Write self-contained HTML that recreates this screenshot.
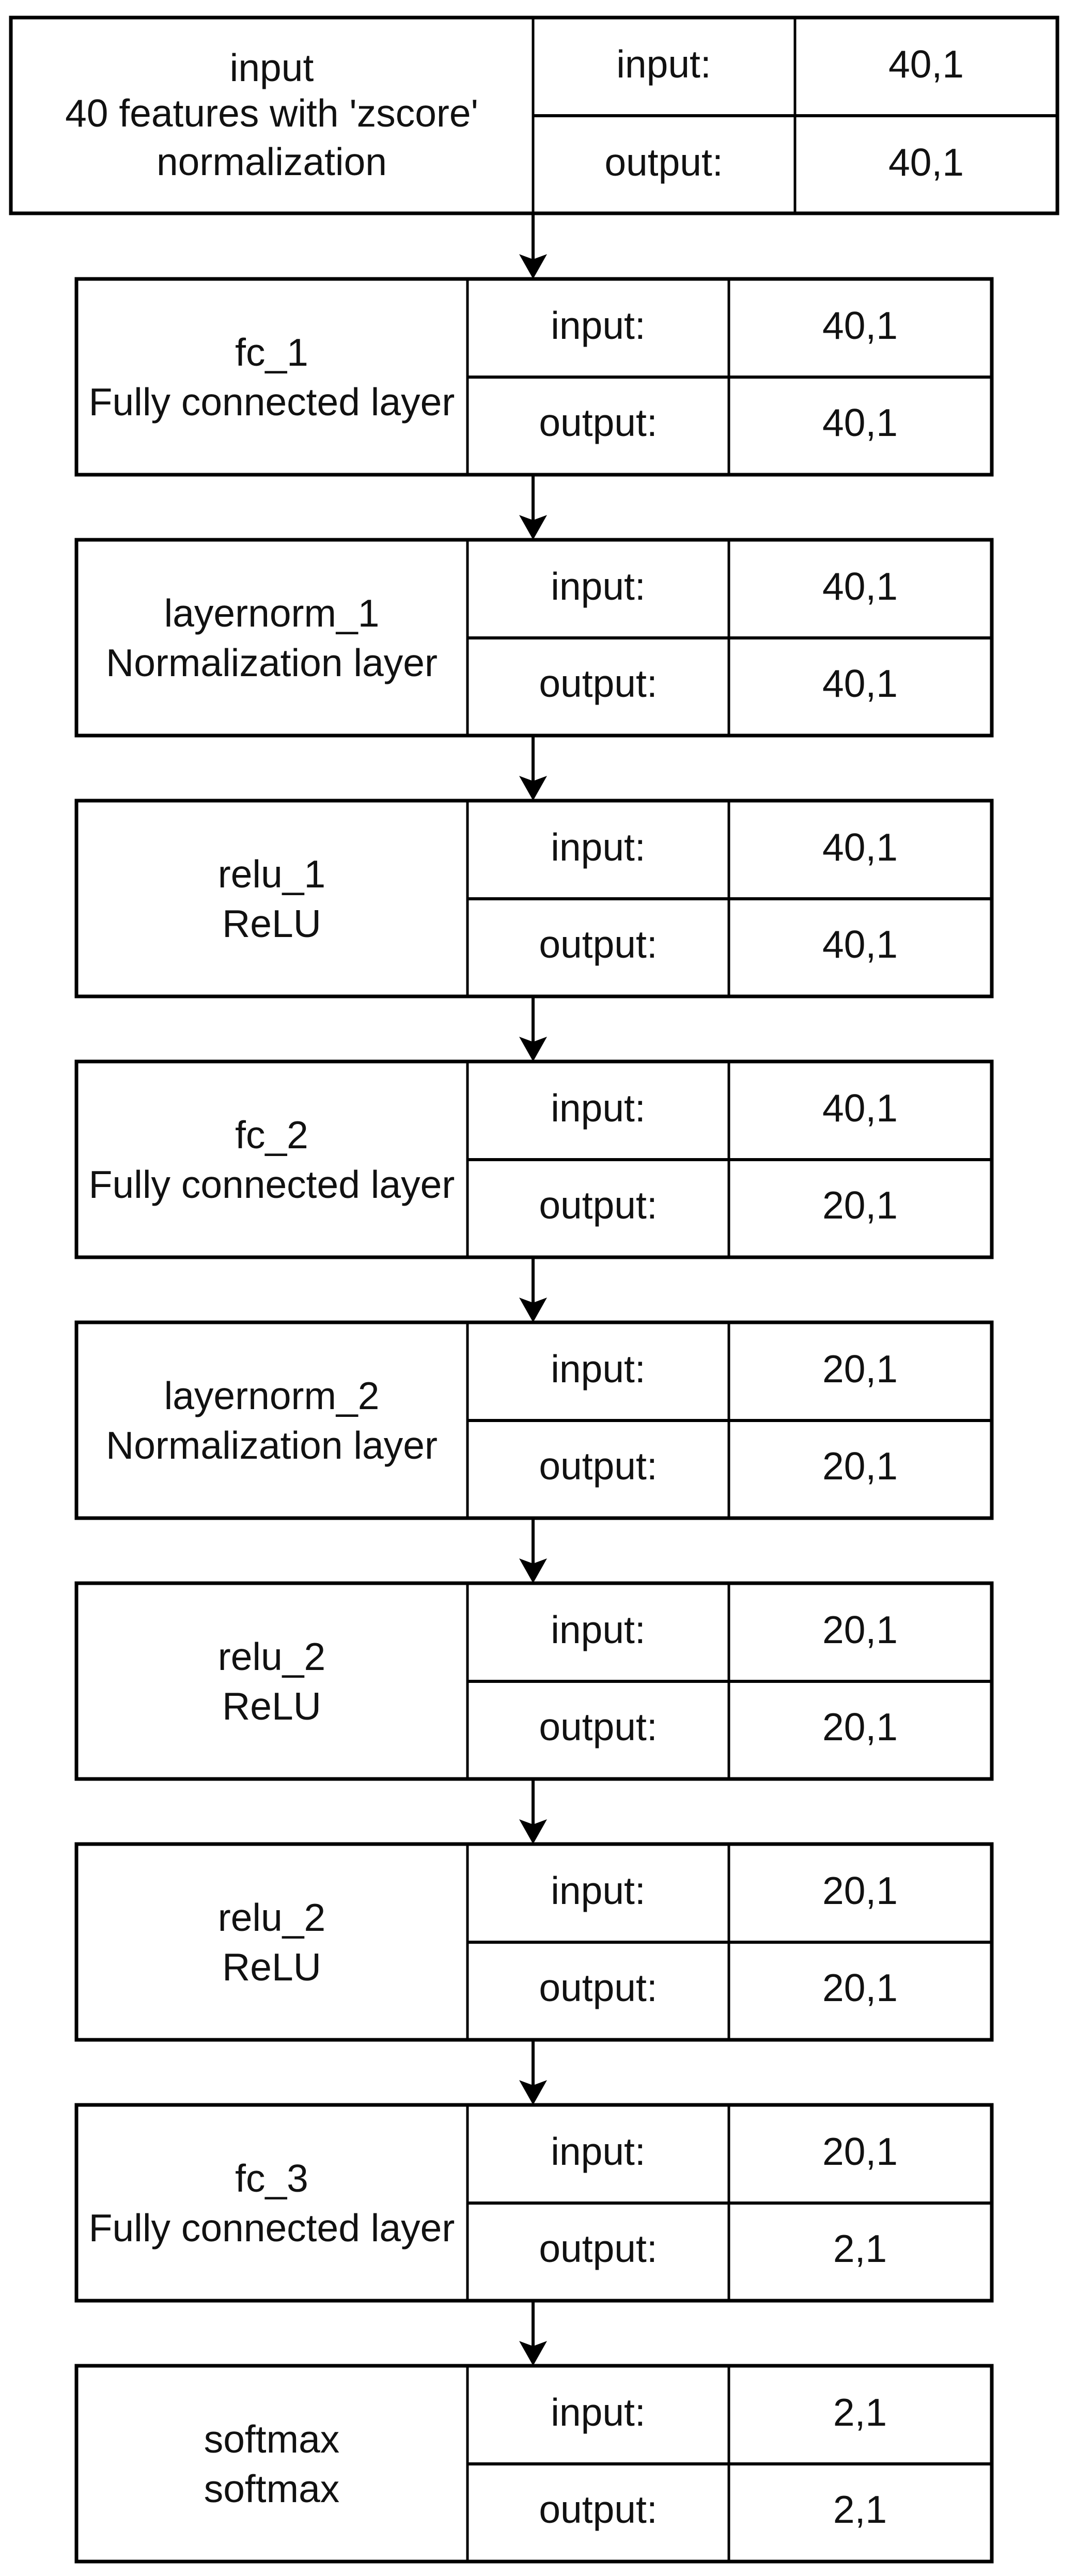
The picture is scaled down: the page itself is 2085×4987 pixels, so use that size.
<!DOCTYPE html>
<html><head><meta charset="utf-8"><style>html,body{margin:0;padding:0;background:#fff}svg{display:block}</style></head>
<body>
<svg xmlns="http://www.w3.org/2000/svg" width="2085" height="4987" viewBox="0 0 2085 4987">
<rect width="2085" height="4987" fill="#fff"/>
<g font-family="Liberation Sans, Arial, sans-serif" font-size="75" fill="#111" text-anchor="middle">
<rect x="21" y="34" width="2026" height="379" fill="none" stroke="#000" stroke-width="7"/>
<line x1="1032" y1="34" x2="1032" y2="413" stroke="#000" stroke-width="5"/>
<line x1="1539" y1="34" x2="1539" y2="413" stroke="#000" stroke-width="5"/>
<line x1="1032" y1="224" x2="2047" y2="224" stroke="#000" stroke-width="6"/>
<text x="526" y="157">input</text>
<text x="526" y="245">40 features with 'zscore'</text>
<text x="526" y="339">normalization</text>
<text x="1285" y="150">input:</text>
<text x="1793" y="150">40,1</text>
<text x="1285" y="340">output:</text>
<text x="1793" y="340">40,1</text>
<line x1="1032" y1="413" x2="1032" y2="502" stroke="#000" stroke-width="6"/>
<path d="M1005,492 L1032,540 L1059,492 L1032,502 Z" fill="#000"/>

<g transform="translate(0,540)">
<rect x="148" y="0" width="1772" height="379" fill="none" stroke="#000" stroke-width="7"/>
<line x1="905" y1="0" x2="905" y2="379" stroke="#000" stroke-width="5"/>
<line x1="1411" y1="0" x2="1411" y2="379" stroke="#000" stroke-width="5"/>
<line x1="905" y1="190" x2="1920" y2="190" stroke="#000" stroke-width="6"/>
<text x="526" y="168">fc_1</text><text x="526" y="264">Fully connected layer</text>
<text x="1158" y="116">input:</text><text x="1665" y="116">40,1</text>
<text x="1158" y="304">output:</text><text x="1665" y="304">40,1</text>
<line x1="1032" y1="379" x2="1032" y2="467" stroke="#000" stroke-width="6"/>
<path d="M1005,457 L1032,505 L1059,457 L1032,467 Z" fill="#000"/>
</g>

<g transform="translate(0,1045)">
<rect x="148" y="0" width="1772" height="379" fill="none" stroke="#000" stroke-width="7"/>
<line x1="905" y1="0" x2="905" y2="379" stroke="#000" stroke-width="5"/>
<line x1="1411" y1="0" x2="1411" y2="379" stroke="#000" stroke-width="5"/>
<line x1="905" y1="190" x2="1920" y2="190" stroke="#000" stroke-width="6"/>
<text x="526" y="168">layernorm_1</text><text x="526" y="264">Normalization layer</text>
<text x="1158" y="116">input:</text><text x="1665" y="116">40,1</text>
<text x="1158" y="304">output:</text><text x="1665" y="304">40,1</text>
<line x1="1032" y1="379" x2="1032" y2="467" stroke="#000" stroke-width="6"/>
<path d="M1005,457 L1032,505 L1059,457 L1032,467 Z" fill="#000"/>
</g>

<g transform="translate(0,1550)">
<rect x="148" y="0" width="1772" height="379" fill="none" stroke="#000" stroke-width="7"/>
<line x1="905" y1="0" x2="905" y2="379" stroke="#000" stroke-width="5"/>
<line x1="1411" y1="0" x2="1411" y2="379" stroke="#000" stroke-width="5"/>
<line x1="905" y1="190" x2="1920" y2="190" stroke="#000" stroke-width="6"/>
<text x="526" y="168">relu_1</text><text x="526" y="264">ReLU</text>
<text x="1158" y="116">input:</text><text x="1665" y="116">40,1</text>
<text x="1158" y="304">output:</text><text x="1665" y="304">40,1</text>
<line x1="1032" y1="379" x2="1032" y2="467" stroke="#000" stroke-width="6"/>
<path d="M1005,457 L1032,505 L1059,457 L1032,467 Z" fill="#000"/>
</g>

<g transform="translate(0,2055)">
<rect x="148" y="0" width="1772" height="379" fill="none" stroke="#000" stroke-width="7"/>
<line x1="905" y1="0" x2="905" y2="379" stroke="#000" stroke-width="5"/>
<line x1="1411" y1="0" x2="1411" y2="379" stroke="#000" stroke-width="5"/>
<line x1="905" y1="190" x2="1920" y2="190" stroke="#000" stroke-width="6"/>
<text x="526" y="168">fc_2</text><text x="526" y="264">Fully connected layer</text>
<text x="1158" y="116">input:</text><text x="1665" y="116">40,1</text>
<text x="1158" y="304">output:</text><text x="1665" y="304">20,1</text>
<line x1="1032" y1="379" x2="1032" y2="467" stroke="#000" stroke-width="6"/>
<path d="M1005,457 L1032,505 L1059,457 L1032,467 Z" fill="#000"/>
</g>

<g transform="translate(0,2560)">
<rect x="148" y="0" width="1772" height="379" fill="none" stroke="#000" stroke-width="7"/>
<line x1="905" y1="0" x2="905" y2="379" stroke="#000" stroke-width="5"/>
<line x1="1411" y1="0" x2="1411" y2="379" stroke="#000" stroke-width="5"/>
<line x1="905" y1="190" x2="1920" y2="190" stroke="#000" stroke-width="6"/>
<text x="526" y="168">layernorm_2</text><text x="526" y="264">Normalization layer</text>
<text x="1158" y="116">input:</text><text x="1665" y="116">20,1</text>
<text x="1158" y="304">output:</text><text x="1665" y="304">20,1</text>
<line x1="1032" y1="379" x2="1032" y2="467" stroke="#000" stroke-width="6"/>
<path d="M1005,457 L1032,505 L1059,457 L1032,467 Z" fill="#000"/>
</g>

<g transform="translate(0,3065)">
<rect x="148" y="0" width="1772" height="379" fill="none" stroke="#000" stroke-width="7"/>
<line x1="905" y1="0" x2="905" y2="379" stroke="#000" stroke-width="5"/>
<line x1="1411" y1="0" x2="1411" y2="379" stroke="#000" stroke-width="5"/>
<line x1="905" y1="190" x2="1920" y2="190" stroke="#000" stroke-width="6"/>
<text x="526" y="168">relu_2</text><text x="526" y="264">ReLU</text>
<text x="1158" y="116">input:</text><text x="1665" y="116">20,1</text>
<text x="1158" y="304">output:</text><text x="1665" y="304">20,1</text>
<line x1="1032" y1="379" x2="1032" y2="467" stroke="#000" stroke-width="6"/>
<path d="M1005,457 L1032,505 L1059,457 L1032,467 Z" fill="#000"/>
</g>

<g transform="translate(0,3570)">
<rect x="148" y="0" width="1772" height="379" fill="none" stroke="#000" stroke-width="7"/>
<line x1="905" y1="0" x2="905" y2="379" stroke="#000" stroke-width="5"/>
<line x1="1411" y1="0" x2="1411" y2="379" stroke="#000" stroke-width="5"/>
<line x1="905" y1="190" x2="1920" y2="190" stroke="#000" stroke-width="6"/>
<text x="526" y="168">relu_2</text><text x="526" y="264">ReLU</text>
<text x="1158" y="116">input:</text><text x="1665" y="116">20,1</text>
<text x="1158" y="304">output:</text><text x="1665" y="304">20,1</text>
<line x1="1032" y1="379" x2="1032" y2="467" stroke="#000" stroke-width="6"/>
<path d="M1005,457 L1032,505 L1059,457 L1032,467 Z" fill="#000"/>
</g>

<g transform="translate(0,4075)">
<rect x="148" y="0" width="1772" height="379" fill="none" stroke="#000" stroke-width="7"/>
<line x1="905" y1="0" x2="905" y2="379" stroke="#000" stroke-width="5"/>
<line x1="1411" y1="0" x2="1411" y2="379" stroke="#000" stroke-width="5"/>
<line x1="905" y1="190" x2="1920" y2="190" stroke="#000" stroke-width="6"/>
<text x="526" y="168">fc_3</text><text x="526" y="264">Fully connected layer</text>
<text x="1158" y="116">input:</text><text x="1665" y="116">20,1</text>
<text x="1158" y="304">output:</text><text x="1665" y="304">2,1</text>
<line x1="1032" y1="379" x2="1032" y2="467" stroke="#000" stroke-width="6"/>
<path d="M1005,457 L1032,505 L1059,457 L1032,467 Z" fill="#000"/>
</g>

<g transform="translate(0,4580)">
<rect x="148" y="0" width="1772" height="379" fill="none" stroke="#000" stroke-width="7"/>
<line x1="905" y1="0" x2="905" y2="379" stroke="#000" stroke-width="5"/>
<line x1="1411" y1="0" x2="1411" y2="379" stroke="#000" stroke-width="5"/>
<line x1="905" y1="190" x2="1920" y2="190" stroke="#000" stroke-width="6"/>
<text x="526" y="168">softmax</text><text x="526" y="264">softmax</text>
<text x="1158" y="116">input:</text><text x="1665" y="116">2,1</text>
<text x="1158" y="304">output:</text><text x="1665" y="304">2,1</text>
</g>
</g>
</svg>
</body></html>
